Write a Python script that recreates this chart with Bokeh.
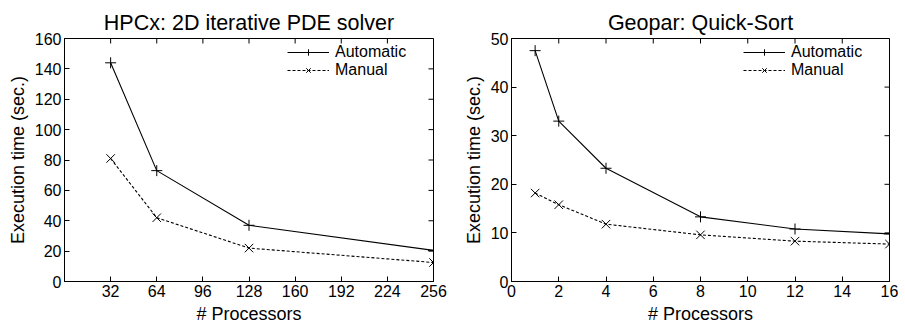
import math
from bokeh.plotting import figure
from bokeh.models import FixedTicker, Legend, LegendItem, Range1d
from bokeh.layouts import row
from bokeh.embed import file_html
from bokeh.resources import INLINE

# ---- data ----
hpcx_title = "HPCx: 2D iterative PDE solver"
hpcx_procs = [32, 64, 128, 256]
hpcx_auto = [144, 73, 37, 20.5]
hpcx_manual = [81, 42, 22, 12.5]
hpcx_xrange = [0, 256]
hpcx_yrange = [0, 160]
hpcx_xticks = [32, 64, 96, 128, 160, 192, 224, 256]
hpcx_yticks = [0, 20, 40, 60, 80, 100, 120, 140, 160]

geo_title = "Geopar: Quick-Sort"
geo_procs = [1, 2, 4, 8, 12, 16]
geo_auto = [47.5, 33, 23.3, 13.3, 10.8, 9.8]
geo_manual = [18.2, 15.8, 11.8, 9.6, 8.3, 7.7]
geo_xrange = [0, 16]
geo_yrange = [0, 50]
geo_xticks = [0, 2, 4, 6, 8, 10, 12, 14, 16]
geo_yticks = [0, 10, 20, 30, 40, 50]

series_names = ["Automatic", "Manual"]
x_label = "# Processors"
y_label = "Execution time (sec.)"

FONT = "Liberation Sans"
TICK = 5


def style_axis(ax, ticks):
    ax.ticker = FixedTicker(ticks=ticks)
    ax.major_tick_in = TICK
    ax.major_tick_out = 0
    ax.minor_tick_in = 0
    ax.minor_tick_out = 0
    ax.axis_line_color = "black"
    ax.major_tick_line_color = "black"
    ax.major_label_text_font = FONT
    ax.major_label_text_color = "black"
    ax.major_label_text_font_size = "16px"
    ax.major_label_standoff = 3
    ax.axis_label_text_font = FONT
    ax.axis_label_text_font_size = "18px"
    ax.axis_label_text_font_style = "normal"
    ax.axis_label_text_color = "black"
    ax.axis_label_standoff = 4


def make_panel(title, x, auto, manual, xr, yr, xticks, yticks, width, bl, br, legend_loc):
    p = figure(width=width, height=330, output_backend="svg", toolbar_location=None,
               x_range=Range1d(*xr), y_range=Range1d(*yr),
               min_border_left=bl, min_border_right=br,
               min_border_top=38, min_border_bottom=49)
    p.title.text = title
    p.title.text_font = FONT
    p.title.text_font_size = "21.5px"
    p.title.text_font_style = "normal"
    p.title.align = "center"
    p.title.text_color = "black"
    p.title.standoff = 8
    p.grid.visible = False
    p.outline_line_color = "black"
    p.outline_line_alpha = 1
    p.xaxis.axis_label = x_label
    p.yaxis.axis_label = y_label
    style_axis(p.xaxis[0], xticks)
    style_axis(p.yaxis[0], yticks)

    # mirrored inward ticks on the top and right edges (gnuplot style)
    p.ray(x=xticks, y=[yr[1]] * len(xticks), length=TICK, length_units="screen",
          angle=-math.pi / 2, line_color="black", line_width=1)
    p.ray(x=[xr[1]] * len(yticks), y=yticks, length=TICK, length_units="screen",
          angle=math.pi, line_color="black", line_width=1)

    l1 = p.line(x, auto, line_color="black", line_width=1.1)
    m1 = p.scatter(x, auto, marker="cross", size=11, line_color="black", line_width=1)
    l2 = p.line(x, manual, line_color="black", line_width=1.1, line_dash="3 2")
    m2 = p.scatter(x, manual, marker="x", size=12, line_color="black", line_width=1)
    leg = Legend(items=[LegendItem(label=series_names[0], renderers=[l1, m1]),
                        LegendItem(label=series_names[1], renderers=[l2, m2])],
                 location=legend_loc)
    leg.border_line_alpha = 0
    leg.background_fill_alpha = 0
    leg.label_text_font = FONT
    leg.label_text_font_size = "16px"
    leg.label_text_color = "black"
    leg.glyph_width = 42
    leg.glyph_height = 16
    leg.label_height = 16
    leg.label_standoff = 6
    leg.spacing = 0
    leg.padding = 2
    leg.margin = 0
    p.add_layout(leg)
    return p


p1 = make_panel(hpcx_title, hpcx_procs, hpcx_auto, hpcx_manual, hpcx_xrange, hpcx_yrange,
                hpcx_xticks, hpcx_yticks, 455, 64, 22, (221, 200))
p2 = make_panel(geo_title, geo_procs, geo_auto, geo_manual, geo_xrange, geo_yrange,
                geo_xticks, geo_yticks, 450, 56, 16, (230, 200))

p = row(p1, p2)
open("out.html", "w").write(file_html(p, INLINE))
